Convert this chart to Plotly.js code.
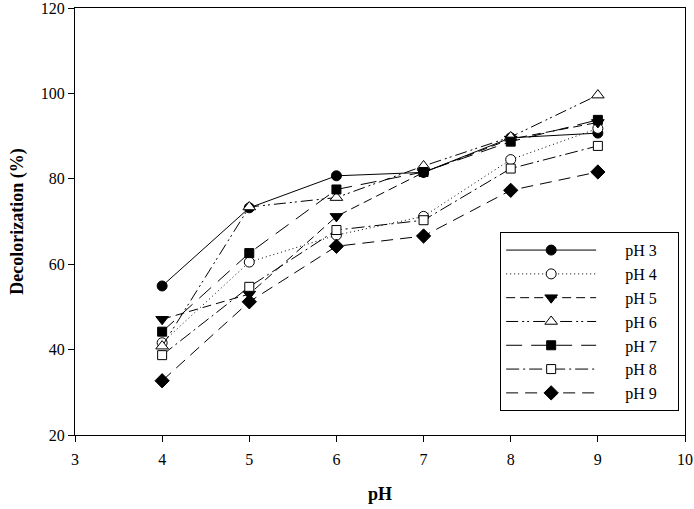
<!DOCTYPE html>
<html>
<head>
<meta charset="utf-8">
<script src="https://cdn.plot.ly/plotly-3.0.1.min.js"></script>
<style>html,body{margin:0;padding:0;background:#fff;}#chart{width:694px;height:509px;}</style>
</head>
<body>
<div id="chart"></div>
<script>
const xValues = [4, 5, 6, 7, 8, 9];
const seriesNames = ['pH 3', 'pH 4', 'pH 5', 'pH 6', 'pH 7', 'pH 8', 'pH 9'];
const ph3 = [54.9, 73.2, 80.7, 81.5, 89.6, 90.7];
const ph4 = [41.6, 60.5, 66.8, 71.2, 84.5, 91.8];
const ph5 = [47.1, 53.0, 71.2, 81.5, 89.3, 93.2];
const ph6 = [40.8, 73.4, 75.6, 83.0, 89.8, 99.6];
const ph7 = [44.2, 62.6, 77.5, 81.6, 88.7, 93.8];
const ph8 = [38.7, 54.7, 68.0, 70.3, 82.4, 87.7];
const ph9 = [32.7, 51.2, 64.2, 66.6, 77.3, 81.6];
const xTicks = [3, 4, 5, 6, 7, 8, 9, 10];
const yTicks = [20, 40, 60, 80, 100, 120];

const allSeries = [ph3, ph4, ph5, ph6, ph7, ph8, ph9];
const styles = [
  {dash: 'solid', symbol: 'circle', fill: '#000', size: 10},
  {dash: '1px,3px', symbol: 'circle', fill: '#fff', size: 10},
  {dash: '9px,5px', symbol: 'triangle-down', fill: '#000', size: 11},
  {dash: '12px,4px,2px,3px,2px,4px', symbol: 'triangle-up', fill: '#fff', size: 11},
  {dash: '16px,9px', symbol: 'square', fill: '#000', size: 9},
  {dash: '13px,4px,2px,4px', symbol: 'square', fill: '#fff', size: 9},
  {dash: '12px,7px', symbol: 'diamond', fill: '#000', size: 11}
];
const serif = 'Liberation Serif';
const padL = '\u00a0\u00a0\u00a0\u00a0\u00a0\u00a0';
const padR = '\u00a0\u00a0\u00a0\u00a0';

const traces = allSeries.map((ys, i) => ({
  type: 'scatter',
  mode: 'lines+markers',
  name: padL + seriesNames[i] + padR,
  x: xValues,
  y: ys,
  line: {color: '#000', width: 1, dash: styles[i].dash},
  marker: {symbol: styles[i].symbol, size: styles[i].size, color: styles[i].fill,
           line: {color: '#000', width: 1}}
}));

const layout = {
  width: 694, height: 509,
  margin: {l: 75, r: 8.5, t: 7.5, b: 74},
  paper_bgcolor: '#fff', plot_bgcolor: '#fff',
  font: {family: serif, size: 16, color: '#000'},
  showlegend: true,
  legend: {
    x: 0.697, y: 0.475, xanchor: 'left', yanchor: 'top',
    bgcolor: '#fff', bordercolor: '#000', borderwidth: 1,
    font: {family: serif, size: 16, color: '#000'},
    itemwidth: 90, tracegroupgap: 0
  },
  xaxis: {
    range: [3, 10], tickvals: xTicks, ticks: 'outside', ticklen: 6, tickcolor: '#000',
    showline: true, linecolor: '#000', linewidth: 1, mirror: true, showgrid: false, zeroline: false,
    tickfont: {family: serif, size: 16}, ticklabelstandoff: 4, ticklabeloverflow: 'allow',
    title: {text: '<b>pH</b>', font: {family: serif, size: 18}, standoff: 20}
  },
  yaxis: {
    range: [20, 120], tickvals: yTicks, ticks: 'outside', ticklen: 6, tickcolor: '#000',
    showline: true, linecolor: '#000', linewidth: 1, mirror: true, showgrid: false, zeroline: false,
    tickfont: {family: serif, size: 16}, ticklabeloverflow: 'allow',
    title: {text: '<b>Decolorization (%)</b>', font: {family: serif, size: 18}, standoff: 12}
  }
};

Plotly.newPlot('chart', traces, layout, {displayModeBar: false, staticPlot: true});
</script>
</body>
</html>
